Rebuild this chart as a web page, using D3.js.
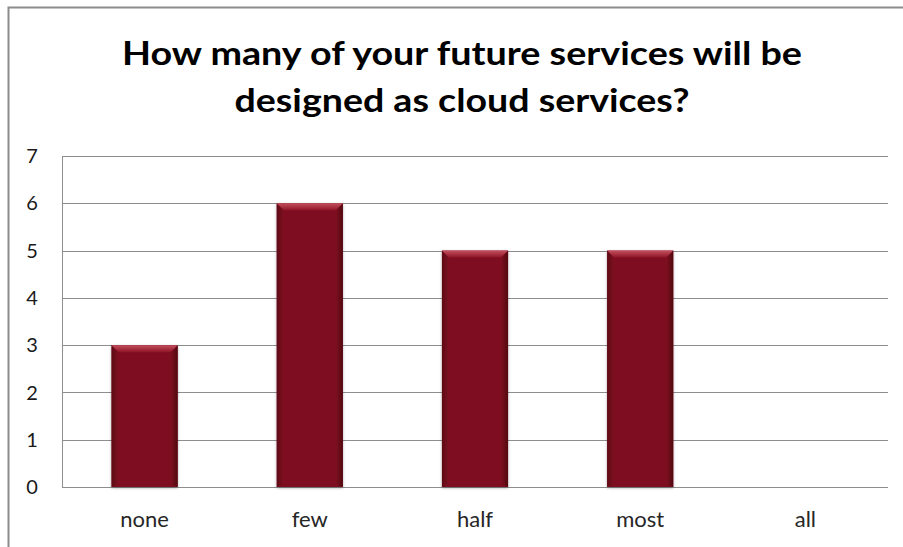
<!DOCTYPE html>
<html>
<head>
<meta charset="utf-8">
<script src="https://cdn.jsdelivr.net/npm/d3@7"></script>
<style>
  body { margin: 0; background: #fff; }
  svg { display: block; }
  text { font-family: Lato, "Open Sans", sans-serif; }
</style>
</head>
<body>
<svg width="903" height="547"></svg>
<script>
// chart data
var categories = ['none', 'few', 'half', 'most', 'all'];
var counts = [3, 6, 5, 5, 0];
var yTicks = [0, 1, 2, 3, 4, 5, 6, 7];
var titleLines = ['How many of your future services will be', 'designed as cloud services?'];

var data = categories.map(function(c, i) {
    return {category: c, value: counts[i]};
});

var svg = d3.select('svg');
var svgWidth = +svg.attr('width');
var svgHeight = +svg.attr('height');

var padding = {t: 156, r: 15, b: 60, l: 62};
var chartWidth = svgWidth - padding.l - padding.r;
var chartHeight = svgHeight - padding.t - padding.b;

// outer chart border (only top and left are visible in the crop)
svg.append('path')
    .attr('d', 'M8.5,' + svgHeight + 'V7.5H' + svgWidth)
    .attr('fill', 'none')
    .attr('stroke', '#8c8c8c')
    .attr('stroke-width', 2);

// title
svg.append('text')
    .attr('x', 462)
    .attr('y', 65)
    .attr('text-anchor', 'middle')
    .attr('font-weight', 'bold')
    .attr('font-size', 32)
    .attr('textLength', 680)
    .attr('lengthAdjust', 'spacingAndGlyphs')
    .text(titleLines[0]);
svg.append('text')
    .attr('x', 462)
    .attr('y', 112)
    .attr('text-anchor', 'middle')
    .attr('font-weight', 'bold')
    .attr('font-size', 32)
    .attr('textLength', 455)
    .attr('lengthAdjust', 'spacingAndGlyphs')
    .text(titleLines[1]);

var chartG = svg.append('g')
    .attr('transform', 'translate(' + [padding.l, padding.t] + ')');

var xScale = d3.scaleBand()
    .domain(categories)
    .range([0, chartWidth])
    .paddingInner(0.6)
    .paddingOuter(0.3);

var yScale = d3.scaleLinear()
    .domain([0, 7])
    .range([chartHeight, 0]);

// gridlines
chartG.append('g')
    .selectAll('line')
    .data(yTicks)
    .enter()
    .append('line')
    .attr('x1', 0)
    .attr('x2', chartWidth)
    .attr('y1', function(d) { return Math.round(yScale(d)) + 0.5; })
    .attr('y2', function(d) { return Math.round(yScale(d)) + 0.5; })
    .attr('stroke', '#8e8e8e')
    .attr('stroke-width', 1);

// y axis line
chartG.append('line')
    .attr('x1', 0.5).attr('x2', 0.5)
    .attr('y1', yScale(7)).attr('y2', yScale(0))
    .attr('stroke', '#8e8e8e');

// y tick labels
chartG.append('g')
    .selectAll('text')
    .data(yTicks)
    .enter()
    .append('text')
    .attr('x', -30)
    .attr('y', function(d) { return yScale(d); })
    .attr('dy', '0.36em')
    .attr('text-anchor', 'middle')
    .attr('font-size', 20)
    .attr('fill', '#1a1a1a')
    .text(function(d) { return d; });

// x labels
chartG.append('g')
    .selectAll('text')
    .data(categories)
    .enter()
    .append('text')
    .attr('x', function(d) { return xScale(d) + xScale.bandwidth() / 2; })
    .attr('y', chartHeight + 40)
    .attr('text-anchor', 'middle')
    .attr('font-size', 22)
    .attr('fill', '#262626')
    .text(function(d) { return d; });

// bars with a bevel look
var defs = svg.append('defs');
var shadow = defs.append('filter').attr('id', 'shadow')
    .attr('x', '-20%').attr('y', '-10%').attr('width', '140%').attr('height', '120%');
shadow.append('feGaussianBlur').attr('in', 'SourceAlpha').attr('stdDeviation', 1.5);
shadow.append('feOffset').attr('dx', 0).attr('dy', 1).attr('result', 'blur');
shadow.append('feComponentTransfer').append('feFuncA').attr('type', 'linear').attr('slope', 0.35);
var merge = shadow.append('feMerge');
merge.append('feMergeNode');
merge.append('feMergeNode').attr('in', 'SourceGraphic');

var topGrad = defs.append('linearGradient').attr('id', 'topGrad')
    .attr('x1', 0).attr('y1', 0).attr('x2', 0).attr('y2', 1);
topGrad.append('stop').attr('offset', 0).attr('stop-color', '#c4505f');
topGrad.append('stop').attr('offset', 1).attr('stop-color', '#8e1526');

var leftGrad = defs.append('linearGradient').attr('id', 'leftGrad')
    .attr('x1', 0).attr('y1', 0).attr('x2', 1).attr('y2', 0);
leftGrad.append('stop').attr('offset', 0).attr('stop-color', '#5e0a16');
leftGrad.append('stop').attr('offset', 1).attr('stop-color', '#7e1020');

var rightGrad = defs.append('linearGradient').attr('id', 'rightGrad')
    .attr('x1', 0).attr('y1', 0).attr('x2', 1).attr('y2', 0);
rightGrad.append('stop').attr('offset', 0).attr('stop-color', '#7e1020');
rightGrad.append('stop').attr('offset', 1).attr('stop-color', '#52080f');

var bevel = 7;
var bars = chartG.selectAll('.bar')
    .data(data.filter(function(d) { return d.value > 0; }))
    .enter()
    .append('g')
    .attr('class', 'bar');

bars.append('rect')
    .attr('x', function(d) { return xScale(d.category); })
    .attr('y', function(d) { return yScale(d.value); })
    .attr('width', xScale.bandwidth())
    .attr('height', function(d) { return chartHeight - yScale(d.value); })
    .attr('fill', '#7e1020')
    .attr('filter', 'url(#shadow)');

// left bevel
bars.append('path')
    .attr('d', function(d) {
        var x0 = xScale(d.category), y0 = yScale(d.value), y1 = chartHeight;
        return 'M' + x0 + ',' + y0 + 'L' + (x0 + bevel) + ',' + (y0 + bevel) + 'L' + (x0 + bevel) + ',' + (y1 - 2) +
            'L' + x0 + ',' + y1 + 'Z';
    })
    .attr('fill', 'url(#leftGrad)');

// right bevel
bars.append('path')
    .attr('d', function(d) {
        var x1 = xScale(d.category) + xScale.bandwidth(), y0 = yScale(d.value), y1 = chartHeight;
        return 'M' + x1 + ',' + y0 + 'L' + (x1 - bevel) + ',' + (y0 + bevel) + 'L' + (x1 - bevel) + ',' + (y1 - 2) +
            'L' + x1 + ',' + y1 + 'Z';
    })
    .attr('fill', 'url(#rightGrad)');

// top bevel (lighter)
bars.append('path')
    .attr('d', function(d) {
        var x0 = xScale(d.category), x1 = x0 + xScale.bandwidth(), y0 = yScale(d.value);
        return 'M' + x0 + ',' + y0 + 'L' + x1 + ',' + y0 + 'L' + (x1 - bevel) + ',' + (y0 + bevel) +
            'L' + (x0 + bevel) + ',' + (y0 + bevel) + 'Z';
    })
    .attr('fill', 'url(#topGrad)');
</script>
</body>
</html>
